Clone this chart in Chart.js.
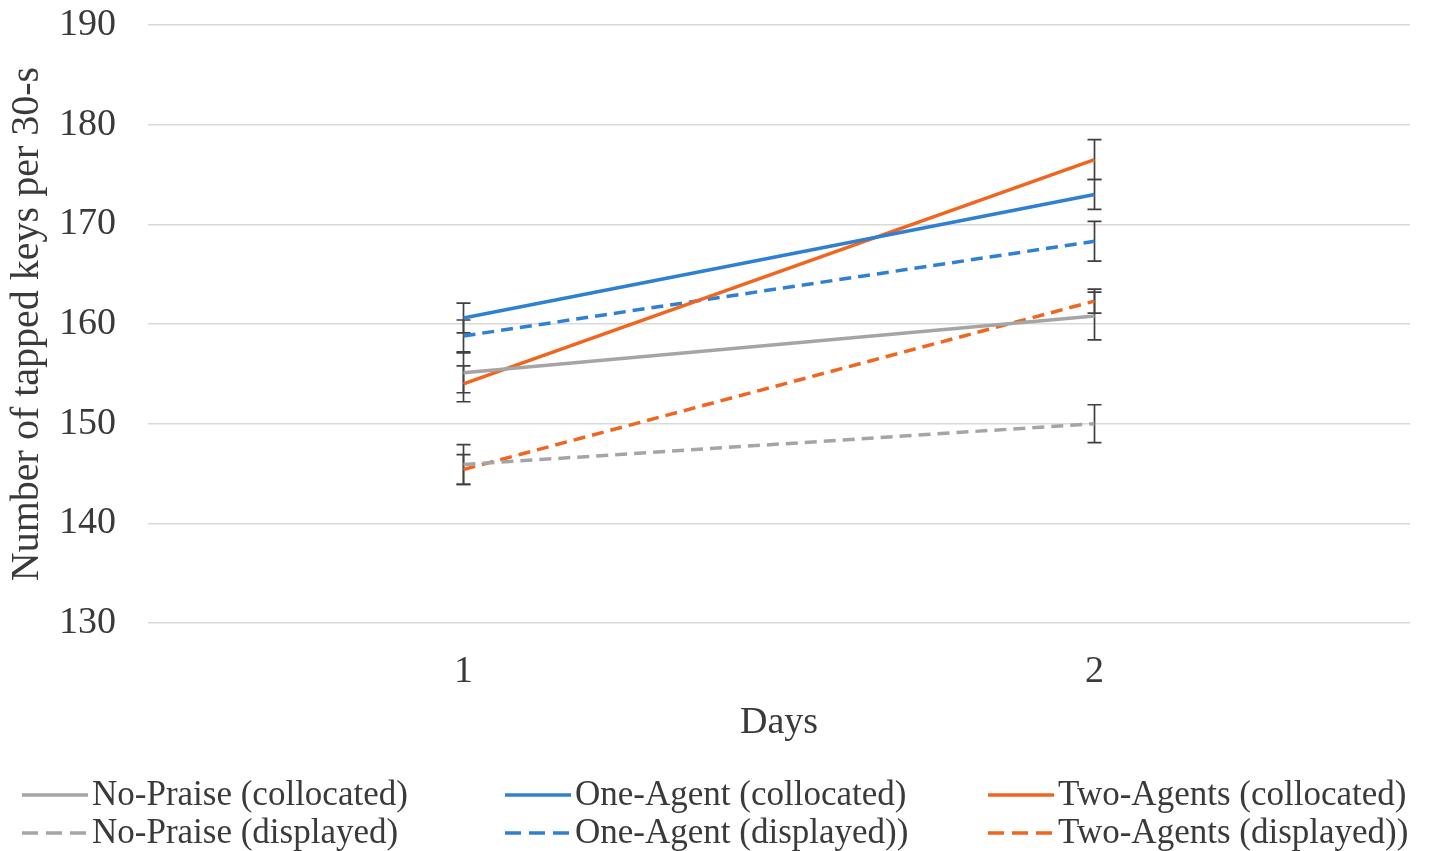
<!DOCTYPE html>
<html>
<head>
<meta charset="utf-8">
<script src="https://cdn.jsdelivr.net/npm/chart.js@4/dist/chart.umd.min.js"></script>
<style>
  html, body { margin: 0; padding: 0; background: #ffffff; }
  #wrap { width: 1429px; height: 851px; }
</style>
</head>
<body>
<div id="wrap"><canvas id="c" width="1429" height="851"></canvas></div>
<script>
// Days on the x axis
const days = ['1', '2'];

// Mean tapped keys per 30-s, per condition
const noPraiseCollocated = [155.1, 160.8];
const oneAgentCollocated = [160.6, 173.0];
const twoAgentsCollocated = [154.0, 176.5];
const noPraiseDisplayed = [145.9, 150.0];
const oneAgentDisplayed = [158.8, 168.3];
const twoAgentsDisplayed = [145.4, 162.3];

// Error bar half-lengths, per condition
const noPraiseCollocatedErr = [2.0, 2.4];
const oneAgentCollocatedErr = [1.5, 1.5];
const twoAgentsCollocatedErr = [1.8, 2.0];
const noPraiseDisplayedErr = [2.0, 1.9];
const oneAgentDisplayedErr = [1.6, 2.0];
const twoAgentsDisplayedErr = [1.5, 1.2];

const yTicks = [130, 140, 150, 160, 170, 180, 190];

const GRAY = '#a5a5a5';
const BLUE = '#2f80d2';
const ORANGE = '#f0651f';
const DASH = [12, 7];
const SERIF = '"Liberation Serif", "Times New Roman", serif';
const TEXT = '#3a3a3a';

function series(label, data, err, color, dashed) {
  return {
    label, data, err,
    borderColor: color,
    backgroundColor: color,
    borderWidth: 3.5,
    borderDash: dashed ? DASH : [],
    pointRadius: 0,
    pointHoverRadius: 0,
    tension: 0,
    fill: false
  };
}

const datasets = [
  series('No-Praise (collocated)', noPraiseCollocated, noPraiseCollocatedErr, GRAY, false),
  series('One-Agent (collocated)', oneAgentCollocated, oneAgentCollocatedErr, BLUE, false),
  series('Two-Agents (collocated)', twoAgentsCollocated, twoAgentsCollocatedErr, ORANGE, false),
  series('No-Praise (displayed)', noPraiseDisplayed, noPraiseDisplayedErr, GRAY, true),
  series('One-Agent (displayed))', oneAgentDisplayed, oneAgentDisplayedErr, BLUE, true),
  series('Two-Agents (displayed))', twoAgentsDisplayed, twoAgentsDisplayedErr, ORANGE, true)
];

// Vertical error bars with caps, drawn beneath the lines
const errorBars = {
  id: 'errorBars',
  beforeDatasetsDraw(chart) {
    const { ctx, scales: { x, y } } = chart;
    ctx.save();
    ctx.strokeStyle = '#404040';
    ctx.lineWidth = 1.7;
    chart.data.datasets.forEach(ds => {
      ds.data.forEach((v, i) => {
        const e = ds.err[i];
        const px = x.getPixelForValue(i);
        const top = y.getPixelForValue(v + e);
        const bot = y.getPixelForValue(v - e);
        ctx.beginPath();
        ctx.moveTo(px, top); ctx.lineTo(px, bot);
        ctx.moveTo(px - 7, top); ctx.lineTo(px + 7, top);
        ctx.moveTo(px - 7, bot); ctx.lineTo(px + 7, bot);
        ctx.stroke();
      });
    });
    ctx.restore();
  }
};

// Three-column legend under the axis
const gridLegend = {
  id: 'gridLegend',
  afterDraw(chart) {
    const { ctx } = chart;
    const colX = [22, 505, 988];
    const rowY = [795, 833];
    ctx.save();
    ctx.font = '35px ' + SERIF;
    ctx.textBaseline = 'middle';
    ctx.fillStyle = TEXT;
    chart.data.datasets.forEach((ds, i) => {
      const cx = colX[i % 3];
      const cy = rowY[Math.floor(i / 3)];
      ctx.beginPath();
      ctx.strokeStyle = ds.borderColor;
      ctx.lineWidth = 3.5;
      ctx.setLineDash(ds.borderDash.length ? [16, 8] : []);
      ctx.moveTo(cx, cy);
      ctx.lineTo(cx + 66, cy);
      ctx.stroke();
      ctx.setLineDash([]);
      ctx.fillText(ds.label, cx + 70, cy + 1);
    });
    ctx.restore();
  }
};

new Chart(document.getElementById('c'), {
  type: 'line',
  data: { labels: days, datasets },
  plugins: [errorBars, gridLegend],
  options: {
    responsive: false,
    animation: false,
    events: [],
    layout: { padding: { top: 25, right: 19, bottom: 100, left: 0 } },
    plugins: {
      legend: { display: false },
      tooltip: { enabled: false }
    },
    scales: {
      x: {
        offset: true,
        grid: { display: false, drawTicks: false },
        border: { display: false },
        ticks: {
          padding: 26,
          color: TEXT,
          font: { family: SERIF, size: 38 }
        },
        title: {
          display: true,
          text: 'Days',
          color: TEXT,
          font: { family: SERIF, size: 38 },
          padding: { top: 0, bottom: 5 }
        },
        afterFit(scale) { scale.height = 128; }
      },
      y: {
        min: 130,
        max: 190,
        afterBuildTicks(scale) { scale.ticks = yTicks.map(v => ({ value: v })); },
        grid: { color: '#d9d9d9', lineWidth: 1.6, drawTicks: false },
        border: { display: false },
        ticks: {
          padding: 32,
          color: TEXT,
          font: { family: SERIF, size: 38 }
        },
        title: {
          display: true,
          text: 'Number of tapped keys per 30-s',
          color: TEXT,
          font: { family: SERIF, size: 40 },
          padding: { top: 3, bottom: 0 }
        },
        afterFit(scale) {
          scale.width = 148;
          scale.paddingTop = 0;
          scale.paddingBottom = 0;
        }
      }
    }
  }
});
</script>
</body>
</html>
